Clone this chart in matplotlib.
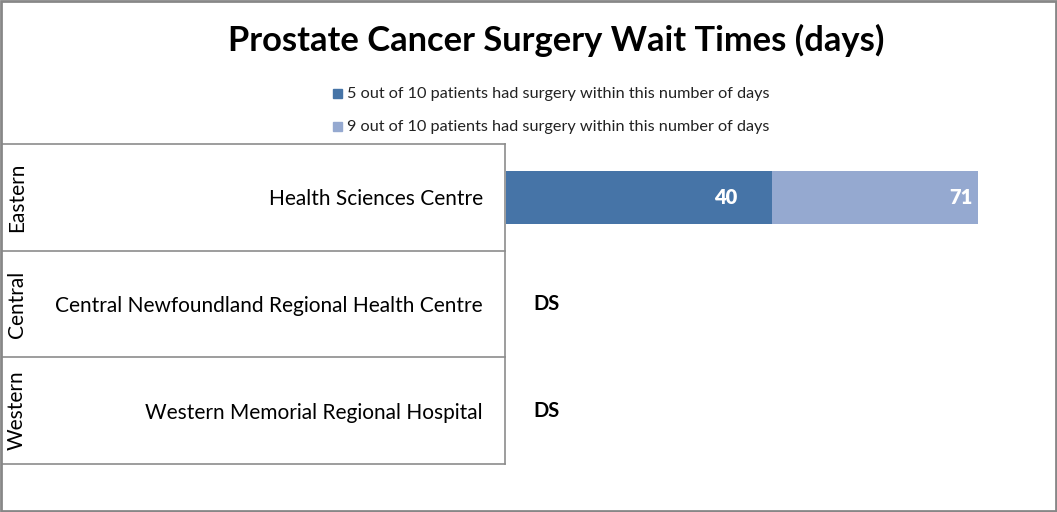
import matplotlib
matplotlib.use("Agg")
import matplotlib.pyplot as plt
from matplotlib.patches import Rectangle

W, H = 1057, 512
FONT = ["Lato", "DejaVu Sans"]
plt.rcParams["font.family"] = FONT

regions = ["Eastern", "Central", "Western"]
hospitals = ["Health Sciences Centre",
             "Central Newfoundland Regional Health Centre",
             "Western Memorial Regional Hospital"]
p50_days = [40, None, None]   # None = data suppressed (DS)
p90_days = [71, None, None]
series_names = ["5 out of 10 patients had surgery within this number of days",
                "9 out of 10 patients had surgery within this number of days"]

DARK = "#4674A7"
LIGHT = "#95A9D0"
GRIDC = "#8c8c8c"
INK = "#000000"


def fx(px):
    return px / W


def fy(py):
    return 1 - py / H


fig = plt.figure(figsize=(W / 100, H / 100), dpi=100)

top, bot = 144, 464
ax = fig.add_axes([fx(506), fy(bot), fx(1038 - 506), (bot - top) / H])
ax.set_xlim(0, 80)
ax.set_ylim(2.5, -0.5)
ax.axis("off")

for i, (a, b) in enumerate(zip(p50_days, p90_days)):
    if a is None:
        ax.annotate("DS", (0, i), xytext=(19.5, 0), textcoords="offset points",
                    ha="left", va="center", fontsize=14.5, fontweight="bold", color=INK)
        continue
    ax.barh(i, a, height=0.5, color=DARK, label=series_names[0])
    ax.barh(i, b - a, left=a, height=0.5, color=LIGHT, label=series_names[1])
    ax.annotate(str(a), (a, i), xytext=(-25, 0), textcoords="offset points",
                ha="right", va="center", fontsize=14.5, fontweight="heavy", color="white")
    ax.annotate(str(b), (b, i), xytext=(-4, 0), textcoords="offset points",
                ha="right", va="center", fontsize=14.5, fontweight="heavy", color="white")

# category table on the left
axt = fig.add_axes([fx(2), fy(bot), fx(505 - 2), (bot - top) / H])
axt.set_xlim(2, 505)
axt.set_ylim(2.5, -0.5)
axt.axis("off")
for yl in (-0.5, 0.5, 1.5, 2.5):
    axt.plot([2, 505], [yl, yl], color=GRIDC, lw=1.2, clip_on=False)
axt.plot([505, 505], [-0.5, 2.5], color=GRIDC, lw=1.2, clip_on=False)
for i, (reg, hosp) in enumerate(zip(regions, hospitals)):
    axt.text(483, i + 0.02, hosp, ha="right", va="center", fontsize=15, color=INK)
    axt.text(17, i, reg, ha="center", va="center", rotation=90, fontsize=15, color=INK)

# title and legend
fig.text(fx(556), fy(40), "Prostate Cancer Surgery Wait Times (days)",
         ha="center", va="center", fontsize=24.8, fontweight="bold", color=INK)
for k, (name, col) in enumerate(zip(series_names, (DARK, LIGHT))):
    yy = 94 + 33 * k
    fig.patches.append(Rectangle((fx(333), fy(yy + 4)), fx(9), 9 / H,
                                 transform=fig.transFigure, color=col))
    fig.text(fx(347), fy(yy), name, ha="left", va="center", fontsize=11.7, color="#222222")

# outer chart border
fig.patches.append(Rectangle((fx(1), fy(H - 1)), fx(W - 2), (H - 2) / H,
                             transform=fig.transFigure, fill=False,
                             edgecolor="#878787", lw=2))

fig.savefig("out.png", dpi=100, facecolor="white")
